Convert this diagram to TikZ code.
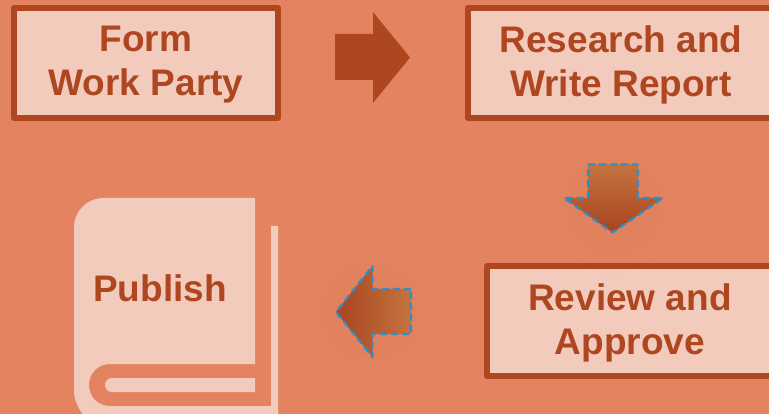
\documentclass[tikz,border=0pt]{standalone}
\usepackage{fontspec}
\setmainfont{Liberation Sans}
\usetikzlibrary{fadings}
\definecolor{bgc}{HTML}{E3835F}
\definecolor{pale}{HTML}{F3CBBD}
\definecolor{rust}{HTML}{AE4720}
\definecolor{gradlight}{HTML}{C4733F}
\definecolor{graddark}{HTML}{A84522}
\definecolor{dashblue}{HTML}{2A8FCB}
\tikzfading[name=halofade,inner color=transparent!95,outer color=transparent!100]
\tikzset{
  x=1pt,y=-1pt,
  stepbox/.style={draw=rust,fill=pale,line width=6pt,line join=round,anchor=north west,minimum height=110pt,inner sep=0pt,outer sep=0pt},
  steptext/.style={font=\bfseries\fontsize{37}{44}\selectfont,text=rust,align=center},
  solidarrow/.style={fill=rust,draw=none},
  dashoutline/.style={draw=dashblue,line width=2.2pt,dash pattern=on 7pt off 4pt,line join=round},
  bookshape/.style={fill=pale,draw=none},
  glow/.style={circle,draw=none,minimum size=140pt,inner sep=0pt,fill=graddark,path fading=halofade}
}
\begin{document}
\begin{tikzpicture}
\useasboundingbox (0,0) rectangle (769,414);
\clip (0,0) rectangle (769,414);
\fill[bgc] (0,0) rectangle (769,414);
% process boxes
\node[stepbox,minimum width=264pt] (form) at (14,8) {};
\node[steptext] (formtext) at (146,64.5) {Form\\Work Party};
\node[stepbox,minimum width=320pt] (research) at (468,8) {};
\node[steptext] (researchtext) at (621,64.5) {Research and\\Write Report};
\node[stepbox,minimum width=300pt] (review) at (487,266) {};
\node[steptext] (reviewtext) at (630,323) {Review and\\Approve};
% solid arrow
\fill[solidarrow] (335,34) -- (373,34) -- (373,12) -- (410,57.5) -- (373,103) -- (373,80) -- (335,80) -- cycle;
% glows
\node[glow] (glowdown) at (613,205) {};
\node[glow] (glowleft) at (370,312) {};
% down arrow
\shade[top color=gradlight,bottom color=graddark] (588,164.5) -- (638,164.5) -- (638,198) -- (663,198) -- (612.5,232.5) -- (564,198) -- (588,198) -- cycle;
\draw[dashoutline] (588,164.5) -- (638,164.5) -- (638,198) -- (663,198) -- (612.5,232.5) -- (564,198) -- (588,198) -- cycle;
% left arrow
\shade[left color=graddark,right color=gradlight] (411,289) -- (372.5,289) -- (372.5,266) -- (336,312) -- (372.5,357) -- (372.5,334) -- (411,334) -- cycle;
\draw[dashoutline] (411,289) -- (372.5,289) -- (372.5,266) -- (336,312) -- (372.5,357) -- (372.5,334) -- (411,334) -- cycle;
% book
\fill[bookshape] (74,228) .. controls (74,211) and (87,198) .. (104,198) -- (255,198) -- (255,364) -- (110,364)
  .. controls (98,364) and (89,373) .. (89,385) .. controls (89,397) and (98,406) .. (110,406)
  -- (271,406) -- (271,226) -- (278,226) -- (278,420) -- (88,420)
  .. controls (78,410) and (74,400) .. (74,390) -- cycle;
\fill[bookshape] (255,378) -- (112,378) .. controls (108,378) and (105,381) .. (105,385) .. controls (105,389) and (108,392) .. (112,392) -- (255,392) -- cycle;
\node[steptext] (publish) at (160,288.5) {Publish};
\end{tikzpicture}
\end{document}
